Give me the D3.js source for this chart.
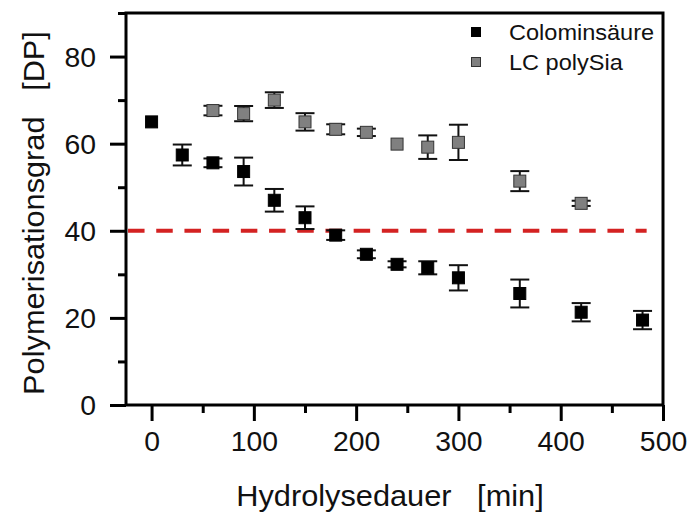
<!DOCTYPE html>
<html>
<head>
<meta charset="utf-8">
<script src="https://cdn.jsdelivr.net/npm/d3@7"></script>
<style>
  html, body { margin: 0; padding: 0; background: #fff; }
  svg { display: block; }
  text { font-family: "Liberation Sans", Arial, sans-serif; fill: #111; }
</style>
</head>
<body>
<div id="chart"></div>
<script>
// ---- data ----
const colominTime = [0, 30, 60, 90, 120, 150, 180, 210, 240, 270, 300, 360, 420, 480];
const colominDP   = [65.0, 57.4, 55.6, 53.6, 47.0, 43.0, 39.0, 34.6, 32.3, 31.5, 29.2, 25.6, 21.3, 19.5];
const colominErr  = [0, 2.4, 1.0, 3.2, 2.6, 2.6, 1.1, 0.9, 0.7, 1.5, 2.9, 3.2, 2.1, 2.1];

const polySiaTime = [60, 90, 120, 150, 180, 210, 240, 270, 300, 360, 420];
const polySiaDP   = [67.6, 66.9, 70.0, 65.0, 63.3, 62.6, 59.9, 59.2, 60.3, 51.4, 46.3];
const polySiaErr  = [1.1, 1.75, 1.8, 2.0, 1.15, 0.85, 0, 2.7, 4.05, 2.3, 0.6];

const xMajorTicks = [0, 100, 200, 300, 400, 500];
const xMinorTicks = [50, 150, 250, 350, 450];
const yMajorTicks = [0, 20, 40, 60, 80];
const yMinorTicks = [10, 30, 50, 70, 90];

const thresholdDP = 40;
const thresholdSpan = [-23, 484];

const seriesNames = ["Colominsäure", "LC polySia"];
const xTitle = "Hydrolysedauer   [min]";
const yTitle = "Polymerisationsgrad   [DP]";

// ---- layout ----
const W = 687, H = 513;
const pLeft = 126, pTop = 13, pRight = 663, pBottom = 405;

const svg = d3.select("#chart").append("svg").attr("width", W).attr("height", H);

const x = d3.scaleLinear().domain([-25, 500]).range([pLeft, pRight]);
const y = d3.scaleLinear().domain([0, 90]).range([pBottom, pTop]);

// axes: minor ticks
const gxMinor = svg.append("g").attr("transform", `translate(0,${pBottom})`)
  .call(d3.axisBottom(x).tickValues(xMinorTicks).tickSize(8).tickFormat(""));
const gyMinor = svg.append("g").attr("transform", `translate(${pLeft},0)`)
  .call(d3.axisLeft(y).tickValues(yMinorTicks).tickSize(8).tickFormat(""));
// major ticks
const gx = svg.append("g").attr("transform", `translate(0,${pBottom})`)
  .call(d3.axisBottom(x).tickValues(xMajorTicks).tickSize(16).tickFormat(d3.format("d")));
const gy = svg.append("g").attr("transform", `translate(${pLeft},0)`)
  .call(d3.axisLeft(y).tickValues(yMajorTicks).tickSize(16).tickFormat(d3.format("d")));

[gxMinor, gyMinor, gx, gy].forEach(g => {
  g.select(".domain").remove();
  g.selectAll(".tick line").attr("stroke", "#000").attr("stroke-width", 3);
});
const tickStretch = 1.05;
gx.selectAll(".tick text")
  .attr("y", 46).attr("dy", null)
  .attr("font-size", 27)
  .attr("transform", `scale(${tickStretch},1)`)
  .style("font-family", '"Liberation Sans", Arial, sans-serif')
  .attr("fill", "#111");
gy.selectAll(".tick text")
  .attr("x", -30 / tickStretch).attr("dy", "0.36em")
  .attr("font-size", 27)
  .attr("transform", `scale(${tickStretch},1)`)
  .style("font-family", '"Liberation Sans", Arial, sans-serif')
  .attr("fill", "#111");

// frame
svg.append("rect")
  .attr("x", pLeft).attr("y", pTop)
  .attr("width", pRight - pLeft).attr("height", pBottom - pTop)
  .attr("fill", "none").attr("stroke", "#000").attr("stroke-width", 3);

// threshold line
svg.append("line")
  .attr("x1", x(thresholdSpan[0])).attr("x2", x(thresholdSpan[1]))
  .attr("y1", y(thresholdDP)).attr("y2", y(thresholdDP))
  .attr("stroke", "#d42222").attr("stroke-width", 4)
  .attr("stroke-dasharray", "16.5,11.7");

// series drawing
function drawSeries(times, vals, errs, fill, stroke) {
  const g = svg.append("g");
  const capW = 19, sz = 12;
  times.forEach((t, i) => {
    const cx = x(t), e = errs[i];
    if (e > 0) {
      const y1 = y(vals[i] + e), y2 = y(vals[i] - e);
      g.append("line").attr("x1", cx).attr("x2", cx).attr("y1", y1).attr("y2", y2)
        .attr("stroke", "#111").attr("stroke-width", 2);
      [y1, y2].forEach(yy => g.append("line")
        .attr("x1", cx - capW / 2).attr("x2", cx + capW / 2).attr("y1", yy).attr("y2", yy)
        .attr("stroke", "#111").attr("stroke-width", 2));
    }
  });
  g.selectAll("rect.pt").data(times).join("rect").attr("class", "pt")
    .attr("x", (t) => x(t) - sz / 2)
    .attr("y", (t, i) => y(vals[i]) - sz / 2)
    .attr("width", sz).attr("height", sz)
    .attr("fill", fill).attr("stroke", stroke).attr("stroke-width", 1);
}
drawSeries(polySiaTime, polySiaDP, polySiaErr, "#808080", "#333");
drawSeries(colominTime, colominDP, colominErr, "#000", "#000");

// legend
const legend = [
  { name: seriesNames[0], fill: "#000", stroke: "#000", cy: 32 },
  { name: seriesNames[1], fill: "#808080", stroke: "#333", cy: 62 }
];
legend.forEach(d => {
  svg.append("rect").attr("x", 476 - 4.5).attr("y", d.cy - 4.5).attr("width", 9).attr("height", 9)
    .attr("fill", d.fill).attr("stroke", d.stroke).attr("stroke-width", 1);
  svg.append("text")
    .attr("transform", `translate(509,${d.cy + 8}) scale(1.07,1)`)
    .attr("font-size", 22)
    .text(d.name);
});

// axis titles
svg.append("text")
  .attr("transform", `translate(390,506) scale(1.06,1)`)
  .attr("text-anchor", "middle").attr("font-size", 29)
  .style("white-space", "pre")
  .text(xTitle);
svg.append("text")
  .attr("transform", `translate(44,213) rotate(-90) scale(1.06,1)`)
  .attr("text-anchor", "middle").attr("font-size", 29)
  .style("white-space", "pre")
  .text(yTitle);
</script>
</body>
</html>
